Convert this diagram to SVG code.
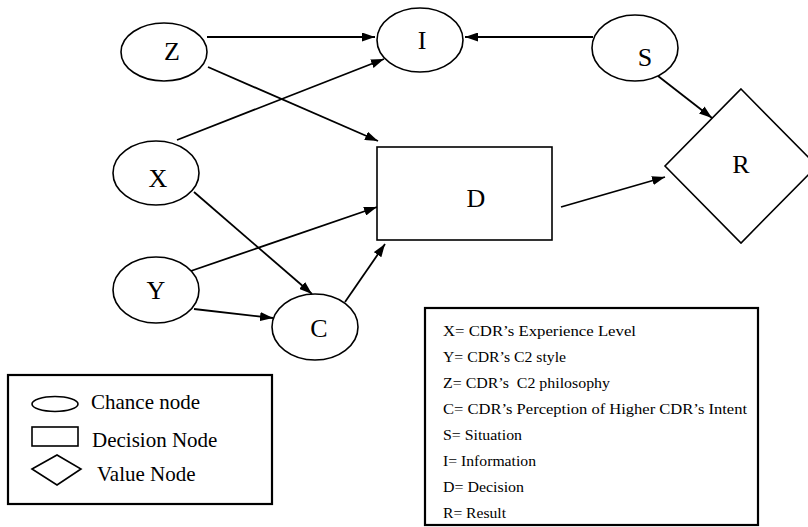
<svg xmlns="http://www.w3.org/2000/svg" width="808" height="527" viewBox="0 0 808 527">
<defs>
<marker id="ah" markerUnits="userSpaceOnUse" markerWidth="13" markerHeight="9" refX="13" refY="4.5" orient="auto">
<path d="M0,0 L13,4.5 L0,9 z" fill="#000"/>
</marker>
<style>
.n{fill:#fff;stroke:#000;stroke-width:1.6}
.lbl{font-size:26px;fill:#000;text-anchor:middle}
.c{stroke:#000;stroke-width:1.8;fill:none;marker-end:url(#ah)}
.box{fill:#fff;stroke:#000;stroke-width:2.2}
.lg{font-size:21px;fill:#000}
.k{font-size:15.5px;fill:#000}
</style>
</defs>
<rect width="808" height="527" fill="#fff"/>
<g id="connectors">
<line class="c" x1="207" y1="37" x2="375" y2="37"/>
<line class="c" x1="593" y1="37" x2="465" y2="37"/>
<line class="c" x1="177" y1="140" x2="384" y2="59"/>
<line class="c" x1="208" y1="67" x2="378" y2="141"/>
<line class="c" x1="194" y1="192" x2="312" y2="294"/>
<line class="c" x1="185" y1="273" x2="377" y2="207"/>
<line class="c" x1="194" y1="309" x2="273" y2="318"/>
<line class="c" x1="345" y1="302" x2="385" y2="244"/>
<line class="c" x1="561" y1="207" x2="665" y2="177"/>
<line class="c" x1="658" y1="76" x2="712" y2="118"/>
</g>
<g font-family="Liberation Serif, DejaVu Serif, Times New Roman, serif">
<g id="node-Z"><ellipse class="n" cx="164" cy="52" rx="43" ry="29"/><text class="lbl" x="172" y="60">Z</text></g>
<g id="node-I"><ellipse class="n" cx="420" cy="40" rx="43" ry="32"/><text class="lbl" x="422" y="49">I</text></g>
<g id="node-S"><ellipse class="n" cx="635" cy="48" rx="43" ry="33"/><text class="lbl" x="645" y="66">S</text></g>
<g id="node-X"><ellipse class="n" cx="156" cy="173" rx="43" ry="32"/><text class="lbl" x="158" y="187">X</text></g>
<g id="node-Y"><ellipse class="n" cx="156" cy="290" rx="43" ry="33"/><text class="lbl" x="156" y="299">Y</text></g>
<g id="node-C"><ellipse class="n" cx="315" cy="327" rx="43" ry="33"/><text class="lbl" x="319" y="337">C</text></g>
<g id="node-D"><rect class="n" x="377" y="147" width="175" height="93"/><text class="lbl" x="476" y="207">D</text></g>
<g id="node-R"><polygon class="n" points="741,89 817,166 741,243 665,166"/><text class="lbl" x="741" y="173">R</text></g>
<g id="legend">
<rect class="box" x="8" y="375" width="264" height="129"/>
<ellipse class="n" cx="55" cy="404" rx="23" ry="7.5"/>
<text class="lg" x="91" y="409">Chance node</text>
<rect class="n" x="32" y="427" width="46" height="19"/>
<text class="lg" x="92" y="447">Decision Node</text>
<polygon class="n" points="32,469 57,455 81,469 57,485"/>
<text class="lg" x="97" y="481">Value Node</text>
</g>
<g id="key">
<rect class="box" x="425" y="308" width="333" height="217"/>
<text class="k" x="443" y="336" textLength="193" lengthAdjust="spacingAndGlyphs">X= CDR’s Experience Level</text>
<text class="k" x="443" y="362" textLength="123" lengthAdjust="spacingAndGlyphs">Y= CDR’s C2 style</text>
<text class="k" x="443" y="388" textLength="167" lengthAdjust="spacingAndGlyphs" xml:space="preserve">Z= CDR’s  C2 philosophy</text>
<text class="k" x="443" y="414" textLength="304" lengthAdjust="spacingAndGlyphs">C= CDR’s Perception of Higher CDR’s Intent</text>
<text class="k" x="443" y="440" textLength="79" lengthAdjust="spacingAndGlyphs">S= Situation</text>
<text class="k" x="443" y="466" textLength="93" lengthAdjust="spacingAndGlyphs">I= Information</text>
<text class="k" x="443" y="492" textLength="81" lengthAdjust="spacingAndGlyphs">D= Decision</text>
<text class="k" x="443" y="518" textLength="63" lengthAdjust="spacingAndGlyphs">R= Result</text>
</g>
</g>
</svg>
